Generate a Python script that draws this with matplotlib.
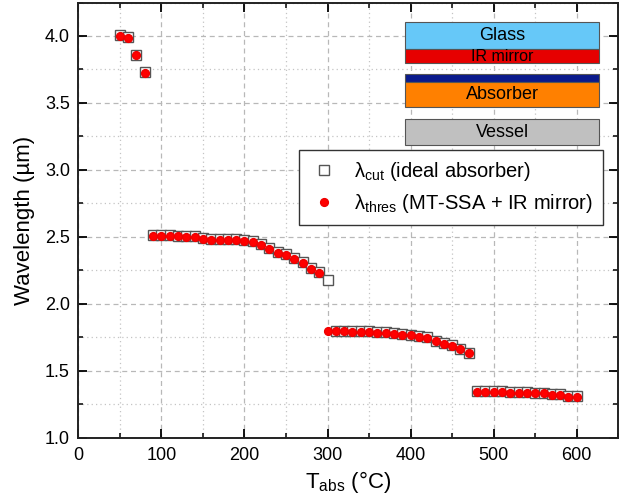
"""Cut-off / threshold wavelength vs absorber temperature."""

import matplotlib
matplotlib.use("Agg")
import matplotlib.pyplot as plt
from matplotlib.patches import Rectangle
from matplotlib.ticker import MultipleLocator, FormatStrFormatter

plt.rcParams['font.family'] = ['Liberation Sans', 'DejaVu Sans']
plt.rcParams['mathtext.fontset'] = 'custom'
plt.rcParams['mathtext.rm'] = 'Liberation Sans'
plt.rcParams['mathtext.it'] = 'Liberation Sans:italic'

# absorber temperature (°C)
t_cut = [50, 60, 70, 80,
         90, 100, 110, 120, 130, 140, 150, 160, 170, 180, 190, 200, 210,
         220, 230, 240, 250, 260, 270, 280, 290, 300,
         310, 320, 330, 340, 350, 360, 370, 380, 390, 400, 410, 420,
         430, 440, 450, 460, 470,
         480, 490, 500, 510, 520, 530, 540, 550, 560, 570, 580, 590, 600]
# ideal absorber cut-off wavelength (µm)
lam_cut = [4.005, 3.99, 3.86, 3.73,
           2.515, 2.515, 2.515, 2.51, 2.505, 2.505, 2.49, 2.485, 2.485, 2.485, 2.485, 2.475, 2.47,
           2.445, 2.415, 2.385, 2.37, 2.34, 2.31, 2.265, 2.235, 2.18,
           1.80, 1.80, 1.795, 1.795, 1.795, 1.79, 1.79, 1.78, 1.775, 1.77, 1.76, 1.75,
           1.725, 1.705, 1.69, 1.665, 1.636,
           1.347, 1.347, 1.347, 1.347, 1.342, 1.342, 1.34, 1.337, 1.337, 1.327, 1.327, 1.312, 1.312]

t_thres = [50, 60, 70, 80,
           90, 100, 110, 120, 130, 140, 150, 160, 170, 180, 190, 200, 210,
           220, 230, 240, 250, 260, 270, 280, 290,
           300, 310, 320, 330, 340, 350, 360, 370, 380, 390, 400, 410, 420,
           430, 440, 450, 460, 470,
           480, 490, 500, 510, 520, 530, 540, 550, 560, 570, 580, 590, 600]
# MT-SSA + IR mirror threshold wavelength (µm)
lam_thres = [4.00, 3.985, 3.857, 3.725,
             2.508, 2.508, 2.508, 2.508, 2.498, 2.498, 2.483, 2.478, 2.473, 2.473, 2.473, 2.468, 2.463,
             2.438, 2.409, 2.379, 2.364, 2.334, 2.304, 2.259, 2.229,
             1.795, 1.795, 1.795, 1.790, 1.790, 1.790, 1.785, 1.785, 1.775, 1.770, 1.765, 1.755, 1.745,
             1.720, 1.700, 1.685, 1.660, 1.631,
             1.342, 1.342, 1.342, 1.342, 1.337, 1.337, 1.335, 1.332, 1.332, 1.322, 1.322, 1.307, 1.307]

layers = ["Glass", "IR mirror", "", "Absorber", "Vessel"]
layer_colors = ["#66c8f8", "#e60000", "#0a1a8c", "#ff8000", "#c0c0c0"]

fig = plt.figure(figsize=(6.31, 5.03), dpi=100)
ax = fig.add_axes([0.1241, 0.1298, 0.8558, 0.8652])

ax.plot(t_cut, lam_cut, 's', ms=6.6, mfc='white', mec='#555555', mew=1.0,
        label=r'$\mathregular{\lambda_{cut}}$ (ideal absorber)', zorder=3)
ax.plot(t_thres, lam_thres, 'o', ms=5.6, color='#ff0000', mec='#ee0000',
        label=r'$\mathregular{\lambda_{thres}}$ (MT-SSA + IR mirror)', zorder=4)

ax.set_xlim(0, 650)
ax.set_ylim(1.0, 4.25)
ax.xaxis.set_major_locator(MultipleLocator(100))
ax.xaxis.set_minor_locator(MultipleLocator(50))
ax.yaxis.set_major_locator(MultipleLocator(0.5))
ax.yaxis.set_minor_locator(MultipleLocator(0.25))
ax.yaxis.set_major_formatter(FormatStrFormatter('%.1f'))

ax.grid(True, which='major', ls=(0, (4, 3)), color='#b8b8b8', lw=0.9)
ax.grid(True, which='minor', ls=(0, (1, 2.5)), color='#c4c4c4', lw=0.9)
ax.set_axisbelow(True)

ax.tick_params(which='both', direction='in', top=True, right=True, labelsize=13)
ax.tick_params(which='major', length=6.5, width=1.3)
ax.tick_params(which='minor', length=3.5, width=1.1)
ax.tick_params(axis='x', pad=7)
ax.tick_params(axis='y', pad=6)
for s in ax.spines.values():
    s.set_linewidth(1.4)
    s.set_color('#222222')

ax.set_xlabel(r'$\mathregular{T_{abs}}$ (°C)', fontsize=16, labelpad=3)
ax.set_ylabel('Wavelength (µm)', fontsize=16, labelpad=7)

# layer stack sketch (axes fraction)
x0, w = 0.605, 0.360
boxes = [(0.8925, 0.0634), (0.8603, 0.0322), (0.8166, 0.0191), (0.7592, 0.0574), (0.6726, 0.0597)]
for (y0, h), name, c in zip(boxes, layers, layer_colors):
    ax.add_patch(Rectangle((x0, y0), w, h, transform=ax.transAxes, facecolor=c,
                           edgecolor='#555555', lw=0.8, zorder=5))
    if name:
        ax.text(x0 + w / 2, y0 + h / 2, name, transform=ax.transAxes, ha='center',
                va='center', fontsize=13 if name != "IR mirror" else 11.5, zorder=6)

leg = ax.legend(loc='upper right', bbox_to_anchor=(0.971, 0.661), fontsize=14.5,
                frameon=True, fancybox=False, edgecolor='#333333', framealpha=1,
                handlelength=1.5, handletextpad=0.7, borderpad=0.5, labelspacing=0.45,
                borderaxespad=0)
leg.get_frame().set_linewidth(1.0)

fig.savefig("out.png", dpi=100)
